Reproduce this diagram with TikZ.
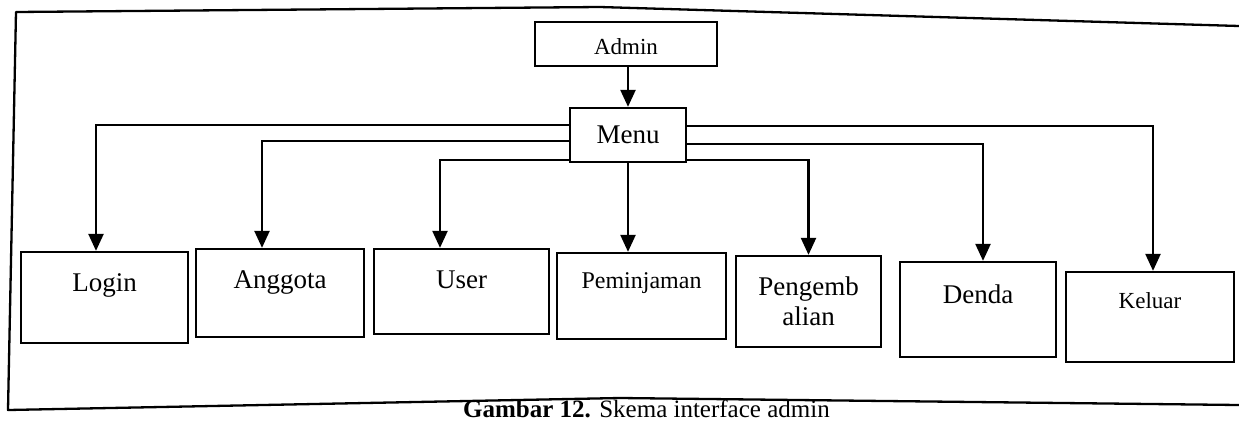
\documentclass[tikz,border=0pt]{standalone}
\usepackage{fontspec}
\setmainfont{Liberation Serif}
\usetikzlibrary{arrows.meta}
\begin{document}
\begin{tikzpicture}[x=1pt,y=-1pt,
  box/.style={draw, line width=2.3pt, inner xsep=0pt, inner ysep=0pt,
    minimum height=0pt, anchor=base, align=center},
  big/.style={font=\fontsize{27}{30}\selectfont},
  small/.style={font=\fontsize{23}{26}\selectfont},
  link/.style={line width=2.3pt, -{Triangle[width=15pt,length=17pt]}},
  frame/.style={line width=2.3pt, line join=round},
]
\useasboundingbox (0,0) rectangle (1239,421);

% outer frame of the figure
\draw[frame] (1239,26) -- (600,7) -- (16,12) -- (8,410) -- (620,398) -- (1239,405);

% top of the hierarchy
\node[box, font=\fontsize{23}{26}\selectfont, minimum width=182pt,
      text height=32pt, text depth=12pt] (admin) at (626,54) {Admin};
\node[box, big, minimum width=116pt,
      text height=35pt, text depth=19pt] (menu) at (628,143) {Menu};

% menu entries
\node[box, big, minimum width=167pt, text height=39pt, text depth=52pt]
  (login) at (104.5,291) {Login};
\node[box, big, minimum width=168pt, text height=39pt, text depth=49pt]
  (anggota) at (280,288) {Anggota};
\node[box, big, minimum width=175pt, text height=39pt, text depth=46pt]
  (user) at (461.5,288) {User};
\node[box, font=\fontsize{24}{28}\selectfont, minimum width=169pt,
      text height=35pt, text depth=51pt]
  (peminjaman) at (641.5,288) {Peminjaman};
\node[box, big, minimum width=145pt, text height=39pt, text depth=52pt]
  (pengembalian) at (808.5,295)
  {\begin{tabular}[t]{@{}c@{}}Pengemb\\alian\end{tabular}};
\node[box, big, minimum width=156pt, text height=41pt, text depth=54pt]
  (denda) at (978,303) {Denda};
\node[box, small, minimum width=168pt, text height=36pt, text depth=54pt]
  (keluar) at (1150,308) {Keluar};

% connectors
\draw[link] (admin.south -| menu.north) -- (menu.north);
\draw[link] (menu.west |- 0,125) -| ([xshift=-8.5pt]login.north);
\draw[link] (menu.west |- 0,141) -| ([xshift=-18pt]anggota.north);
\draw[link] (menu.west |- 0,160) -| ([xshift=-21.5pt]user.north);
\draw[link] (menu.south) -- (menu.south |- peminjaman.north);
\draw[link] (menu.east |- 0,160) -| (pengembalian.north);
\draw[link] (menu.east |- 0,144) -| ([xshift=5pt]denda.north);
\draw[link] (menu.east |- 0,126) -| ([xshift=3pt]keluar.north);

% caption
\node[anchor=base west, inner sep=0pt, font=\fontsize{25}{28}\selectfont]
  (caption) at (463,417) {\textbf{Gambar 12.} Skema interface admin};
\end{tikzpicture}
\end{document}
